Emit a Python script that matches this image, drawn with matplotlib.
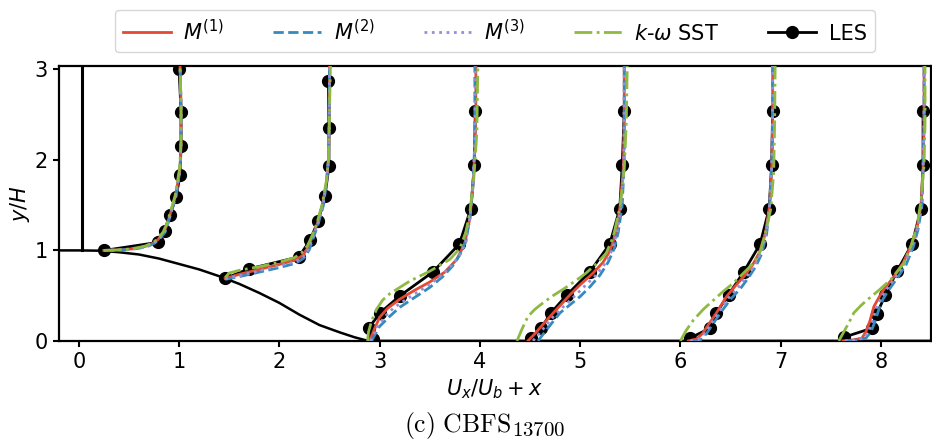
import numpy as np
import matplotlib.pyplot as plt

# hill geometry (lower wall)
hill_x = [-0.2, 0.0, 0.2, 0.4, 0.6, 0.8, 1.0, 1.2, 1.4, 1.6, 1.8, 2.0, 2.2, 2.4, 2.6, 2.75, 2.85, 2.9, 8.6]
hill_y = [1.0, 1.0, 0.997, 0.98, 0.955, 0.91, 0.85, 0.79, 0.715, 0.63, 0.53, 0.42, 0.29, 0.175, 0.095, 0.04, 0.01, 0.0, 0.0]
inlet_x = 0.03

# LES reference profiles (markers)
les_x = [
    [0.255, 0.795, 0.855, 0.91, 0.97, 1.01, 1.02, 1.02, 1.0],
    [1.46, 1.695, 2.195, 2.305, 2.385, 2.455, 2.495, 2.495, 2.49],
    [2.93, 2.89, 3.005, 3.205, 3.53, 3.795, 3.91, 3.945, 3.955],
    [4.51, 4.61, 4.71, 4.87, 5.095, 5.295, 5.395, 5.42, 5.44],
    [6.095, 6.295, 6.36, 6.48, 6.63, 6.795, 6.885, 6.91, 6.92],
    [7.63, 7.91, 7.96, 8.045, 8.16, 8.31, 8.40, 8.42, 8.42],
]
les_y = [
    [1.0, 1.09, 1.22, 1.39, 1.59, 1.83, 2.15, 2.53, 3.01],
    [0.69, 0.795, 0.928, 1.11, 1.32, 1.60, 1.93, 2.35, 2.87],
    [0.02, 0.14, 0.31, 0.50, 0.76, 1.07, 1.46, 1.94, 2.54],
    [0.03, 0.14, 0.31, 0.51, 0.76, 1.07, 1.46, 1.94, 2.54],
    [0.03, 0.14, 0.31, 0.51, 0.76, 1.07, 1.46, 1.94, 2.54],
    [0.04, 0.14, 0.30, 0.51, 0.77, 1.07, 1.46, 1.94, 2.54],
]

# M(1)
m1_x = [
    [0.25, 0.4, 0.52, 0.61, 0.68, 0.74, 0.79, 0.85, 0.885, 0.925, 0.965, 1.01, 1.02, 1.02, 1.01],
    [1.46, 1.6, 1.8, 2.0, 2.15, 2.23, 2.28, 2.33, 2.38, 2.43, 2.47, 2.49, 2.5, 2.5],
    [2.9, 2.93, 2.96, 3.0, 3.08, 3.2, 3.35, 3.5, 3.65, 3.77, 3.85, 3.9, 3.93, 3.95, 3.96, 3.96],
    [4.48, 4.55, 4.62, 4.7, 4.8, 4.9, 5.0, 5.13, 5.23, 5.3, 5.36, 5.4, 5.43, 5.44, 5.44],
    [6.08, 6.16, 6.22, 6.28, 6.36, 6.46, 6.55, 6.64, 6.72, 6.79, 6.85, 6.89, 6.91, 6.92, 6.92],
    [7.62, 7.72, 7.81, 7.85, 7.89, 7.93, 7.98, 8.03, 8.13, 8.22, 8.3, 8.36, 8.4, 8.42, 8.43, 8.43],
]
m1_y = [
    [1.0, 1.005, 1.015, 1.03, 1.05, 1.08, 1.12, 1.2, 1.3, 1.45, 1.6, 1.9, 2.2, 2.6, 3.04],
    [0.69, 0.735, 0.79, 0.845, 0.89, 0.94, 1.02, 1.15, 1.3, 1.5, 1.75, 2.0, 2.5, 3.04],
    [0.0, 0.08, 0.16, 0.26, 0.36, 0.46, 0.56, 0.65, 0.76, 0.9, 1.08, 1.35, 1.7, 2.1, 2.6, 3.04],
    [0.0, 0.08, 0.17, 0.27, 0.39, 0.51, 0.62, 0.75, 0.87, 1.0, 1.2, 1.5, 1.9, 2.4, 3.04],
    [0.0, 0.02, 0.08, 0.18, 0.31, 0.49, 0.61, 0.72, 0.84, 0.98, 1.2, 1.5, 1.9, 2.4, 3.04],
    [0.0, 0.01, 0.03, 0.1, 0.22, 0.38, 0.48, 0.57, 0.71, 0.86, 1.05, 1.25, 1.5, 1.9, 2.4, 3.04],
]

# M(2)
m2_x = [
    [0.25, 0.42, 0.54, 0.63, 0.70, 0.755, 0.80, 0.86, 0.89, 0.93, 0.97, 1.01, 1.02, 1.02, 1.01],
    [1.46, 1.6, 1.8, 2.0, 2.17, 2.25, 2.3, 2.34, 2.39, 2.44, 2.47, 2.49, 2.5, 2.5],
    [2.92, 2.96, 3.0, 3.1, 3.2, 3.35, 3.5, 3.63, 3.73, 3.8, 3.86, 3.9, 3.93, 3.95, 3.95],
    [4.58, 4.65, 4.72, 4.8, 4.9, 5.0, 5.1, 5.2, 5.28, 5.34, 5.38, 5.42, 5.44, 5.44],
    [6.12, 6.2, 6.26, 6.32, 6.4, 6.5, 6.6, 6.68, 6.75, 6.81, 6.86, 6.89, 6.91, 6.92, 6.92],
    [7.66, 7.76, 7.85, 7.9, 7.94, 7.98, 8.02, 8.07, 8.16, 8.25, 8.32, 8.37, 8.41, 8.42, 8.43, 8.43],
]
m2_y = [
    [1.0, 1.005, 1.015, 1.03, 1.05, 1.08, 1.12, 1.2, 1.3, 1.45, 1.6, 1.9, 2.2, 2.6, 3.04],
    [0.68, 0.71, 0.76, 0.81, 0.86, 0.92, 1.01, 1.14, 1.3, 1.5, 1.75, 2.0, 2.5, 3.04],
    [0.0, 0.08, 0.16, 0.27, 0.37, 0.48, 0.59, 0.71, 0.83, 0.95, 1.1, 1.35, 1.7, 2.2, 3.04],
    [0.0, 0.1, 0.2, 0.31, 0.4, 0.49, 0.6, 0.73, 0.87, 1.02, 1.2, 1.5, 2.0, 3.04],
    [0.0, 0.01, 0.08, 0.18, 0.31, 0.46, 0.58, 0.7, 0.82, 0.96, 1.18, 1.5, 1.9, 2.4, 3.04],
    [0.0, 0.01, 0.03, 0.1, 0.21, 0.35, 0.46, 0.55, 0.69, 0.84, 1.03, 1.23, 1.5, 1.9, 2.4, 3.04],
]

# M(3)
m3_x = [
    [0.25, 0.41, 0.53, 0.62, 0.69, 0.748, 0.795, 0.855, 0.888, 0.928, 0.968, 1.01, 1.02, 1.02, 1.01],
    [1.46, 1.6, 1.8, 2.0, 2.16, 2.24, 2.29, 2.335, 2.385, 2.435, 2.47, 2.49, 2.5, 2.5],
    [2.91, 2.945, 2.98, 3.05, 3.14, 3.28, 3.43, 3.57, 3.69, 3.79, 3.86, 3.9, 3.93, 3.95, 3.955],
    [4.53, 4.6, 4.67, 4.75, 4.85, 4.95, 5.05, 5.17, 5.26, 5.32, 5.37, 5.41, 5.435, 5.44],
    [6.1, 6.18, 6.24, 6.3, 6.38, 6.48, 6.58, 6.66, 6.74, 6.8, 6.855, 6.89, 6.91, 6.92, 6.92],
    [7.64, 7.74, 7.83, 7.875, 7.915, 7.955, 8.0, 8.05, 8.145, 8.235, 8.31, 8.365, 8.405, 8.42, 8.43, 8.43],
]
m3_y = [
    [1.0, 1.005, 1.015, 1.03, 1.05, 1.08, 1.12, 1.2, 1.3, 1.45, 1.6, 1.9, 2.2, 2.6, 3.04],
    [0.685, 0.72, 0.775, 0.83, 0.875, 0.93, 1.015, 1.145, 1.3, 1.5, 1.75, 2.0, 2.5, 3.04],
    [0.0, 0.08, 0.16, 0.265, 0.365, 0.47, 0.575, 0.68, 0.8, 0.93, 1.09, 1.35, 1.7, 2.2, 3.04],
    [0.0, 0.09, 0.185, 0.29, 0.395, 0.5, 0.61, 0.74, 0.87, 1.01, 1.2, 1.5, 1.95, 3.04],
    [0.0, 0.015, 0.08, 0.18, 0.31, 0.475, 0.595, 0.71, 0.83, 0.97, 1.19, 1.5, 1.9, 2.4, 3.04],
    [0.0, 0.01, 0.03, 0.1, 0.215, 0.365, 0.47, 0.56, 0.7, 0.85, 1.04, 1.24, 1.5, 1.9, 2.4, 3.04],
]

# k-omega SST
sst_x = [
    [0.25, 0.38, 0.50, 0.59, 0.665, 0.73, 0.78, 0.84, 0.88, 0.92, 0.96, 1.005, 1.02, 1.02, 1.01],
    [1.46, 1.5, 1.6, 1.8, 2.0, 2.15, 2.22, 2.28, 2.33, 2.38, 2.43, 2.47, 2.49, 2.5, 2.51],
    [2.88, 2.89, 2.92, 2.97, 3.03, 3.1, 3.3, 3.5, 3.7, 3.8, 3.86, 3.9, 3.94, 3.97, 3.98],
    [4.37, 4.42, 4.48, 4.55, 4.63, 4.73, 4.83, 4.95, 5.06, 5.17, 5.26, 5.33, 5.4, 5.44, 5.46, 5.47],
    [6.0, 6.06, 6.13, 6.23, 6.33, 6.43, 6.53, 6.63, 6.73, 6.8, 6.85, 6.9, 6.93, 6.94, 6.945],
    [7.58, 7.63, 7.68, 7.73, 7.8, 7.86, 7.98, 8.1, 8.23, 8.3, 8.36, 8.4, 8.43, 8.44, 8.44],
]
sst_y = [
    [1.0, 1.005, 1.015, 1.03, 1.05, 1.08, 1.12, 1.2, 1.3, 1.45, 1.6, 1.9, 2.2, 2.6, 3.04],
    [0.70, 0.75, 0.78, 0.82, 0.87, 0.92, 0.97, 1.05, 1.17, 1.32, 1.52, 1.77, 2.0, 2.5, 3.04],
    [0.0, 0.1, 0.22, 0.35, 0.45, 0.52, 0.66, 0.77, 0.90, 1.02, 1.2, 1.42, 1.8, 2.3, 3.04],
    [0.0, 0.13, 0.27, 0.35, 0.42, 0.5, 0.57, 0.66, 0.75, 0.86, 0.97, 1.15, 1.49, 1.9, 2.4, 3.04],
    [0.0, 0.12, 0.23, 0.35, 0.45, 0.55, 0.64, 0.75, 0.86, 1.0, 1.2, 1.45, 1.85, 2.4, 3.04],
    [0.0, 0.1, 0.2, 0.31, 0.39, 0.45, 0.56, 0.68, 0.86, 1.05, 1.27, 1.55, 1.95, 2.4, 3.04],
]

fs = 15
fig = plt.figure(figsize=(9.32, 4.45), dpi=100)
ax = fig.add_axes([0.063, 0.234, 0.936, 0.618])

ax.plot(hill_x, hill_y, color='black', lw=1.8, zorder=1)
ax.plot([inlet_x, inlet_x], [1.0, 3.1], color='black', lw=2.2, zorder=1)

models = [
    (m1_x, m1_y, '#E24A33', '-', r'$M^{(1)}$'),
    (m2_x, m2_y, '#348ABD', '--', r'$M^{(2)}$'),
    (m3_x, m3_y, '#988ED5', ':', r'$M^{(3)}$'),
    (sst_x, sst_y, '#8EBA42', '-.', r'$k$-$\omega$ SST'),
]

les_handle = None
for i in range(len(les_x)):
    ln, = ax.plot(les_x[i], les_y[i], '-o', color='black', lw=2, ms=8.5,
                  zorder=2, label='LES')
    if i == 0:
        les_handle = ln

handles = []
for xs, ys, c, ls, lab in models:
    for i in range(len(xs)):
        ln, = ax.plot(xs[i], ys[i], color=c, ls=ls, lw=2, zorder=3, label=lab)
        if i == 0:
            handles.append(ln)
handles.append(les_handle)

ax.set_xlim(-0.2, 8.5)
ax.set_ylim(0, 3.04)
ax.set_xticks(range(9))
ax.set_yticks([0, 1, 2, 3])
ax.tick_params(labelsize=fs, width=1.5, length=4.5)
for s in ax.spines.values():
    s.set_linewidth(1.6)

ax.set_xlabel(r'$U_x/U_b + x$', fontsize=fs, labelpad=4)
ax.set_ylabel(r'$y/H$', fontsize=fs, labelpad=2)

ax.legend(handles=handles, labels=[h.get_label() for h in handles],
          loc='lower center', bbox_to_anchor=(0.5, 1.05), ncol=5,
          fontsize=fs, handlelength=2.3, handletextpad=0.6,
          columnspacing=2.35, borderaxespad=0)

# caption: main part and enlarged subscript
fig.text(0.549, 0.030, r'$\mathrm{(c)\ CBFS}$', ha='right', va='baseline',
         fontsize=18.5, math_fontfamily='cm')
fig.text(0.549, 0.021, r'$\mathrm{13700}$', ha='left', va='baseline',
         fontsize=15, math_fontfamily='cm')

fig.savefig('out.png', dpi=100)
